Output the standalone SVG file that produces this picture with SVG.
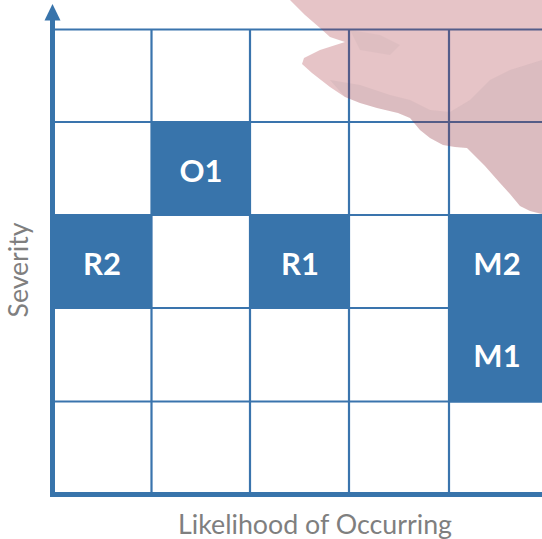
<svg xmlns="http://www.w3.org/2000/svg" width="542" height="539" viewBox="0 0 542 539">
<style>
.grid{stroke:#3a74ad;stroke-width:2.2;fill:none}
.cell{fill:#3874ab}
.lbl{font-family:Lato,"Open Sans","Liberation Sans",sans-serif;font-weight:bold;font-size:31px;fill:#ffffff;text-anchor:middle}
.axl{font-family:Lato,"Open Sans","Liberation Sans",sans-serif;font-size:27px;fill:#7f7f7f;text-anchor:middle}
</style>
<rect width="542" height="539" fill="#ffffff"/>
<g id="grid">
<path class="grid" d="M52 29.5H548 M52 122H548 M52 215H548 M52 308H548 M52 401.5H548 M151.5 29.5V495 M250 29.5V495 M349 29.5V495 M449 29.5V495"/>
</g>
<g id="O1"><rect class="cell" x="151" y="121.5" width="100" height="94"/><text class="lbl" x="201" y="182">O1</text></g>
<g id="R2"><rect class="cell" x="52" y="214.5" width="100" height="94"/><text class="lbl" x="102" y="275">R2</text></g>
<g id="R1"><rect class="cell" x="249.5" y="214.5" width="100.5" height="94"/><text class="lbl" x="300" y="275">R1</text></g>
<g id="M2"><rect class="cell" x="448" y="214.5" width="94" height="94"/><text class="lbl" x="497" y="275">M2</text></g>
<g id="M1"><rect class="cell" x="448" y="307.5" width="94" height="95"/><text class="lbl" x="497" y="367">M1</text></g>
<g id="axes">
<path d="M52.5 494.5V18 M50 494.5H542" stroke="#3874ab" stroke-width="5" fill="none"/>
<polygon points="52.5,4 60.5,20.5 44.5,20.5" fill="#3874ab"/>
</g>
<g id="blob">
<polygon points="290,0 542,0 542,214 530,211 520,206 510,194 500,183 485,166 467,148 455,147 443,145 430,138 420,130 410,118 398,113 377,108 360,103 345,97 330,87 312,73 302,64 304,58 320,50 345,42 330,37 320,28 305,15" fill="#a01a28" opacity="0.26"/>
<polygon points="330,80 360,85 390,95 410,100 430,110 450,112 470,100 490,80 510,70 542,60 542,214 530,211 520,206 510,194 500,183 485,166 467,148 455,147 443,145 430,138 420,130 410,118 398,113 377,108 360,103 345,97" fill="#505868" opacity="0.07"/>
<polygon points="350,30 380,35 400,45 390,55 360,50" fill="#505868" opacity="0.05"/>
</g>
<text class="axl" x="315" y="534" textLength="274" lengthAdjust="spacingAndGlyphs">Likelihood of Occurring</text>
<text class="axl" transform="translate(28 270) rotate(-90)" x="0" y="0" textLength="95" lengthAdjust="spacingAndGlyphs">Severity</text>
</svg>
